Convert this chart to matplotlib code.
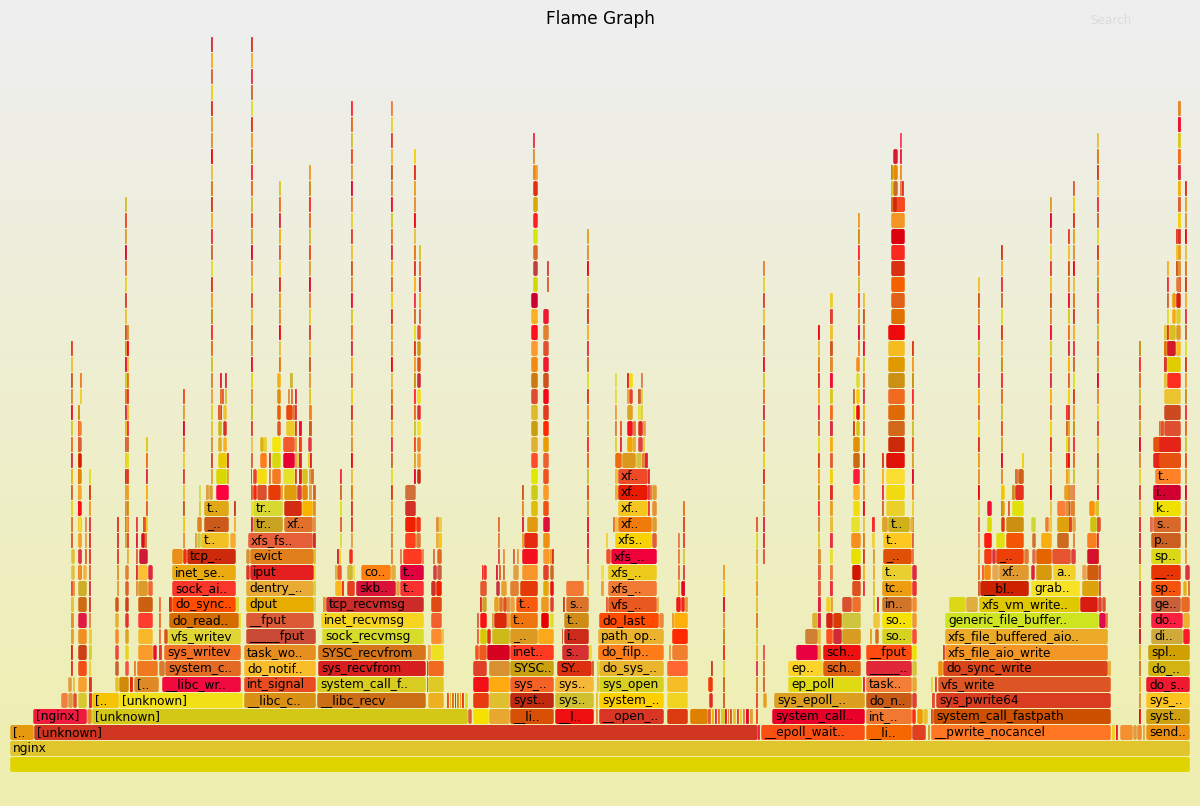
import numpy as np
import matplotlib
matplotlib.use('Agg')
import matplotlib.pyplot as plt
from matplotlib.patches import FancyBboxPatch

# stack rows, bottom up: (first sample, last sample, function name)
r00 = [(10, 1190, '')]
c00 = ['#e0d400']
r01 = [(10, 1190, 'nginx')]
c01 = ['#e0c52d']
r02 = [(10, 34, '[..'), (34, 758, '[unknown]'), (758, 760, ''), (761, 865, '__epoll_wait..'), (866, 912, '__li..'),
       (912, 926, ''), (928, 930, ''), (931, 1111, '__pwrite_nocancel'), (1112, 1115, ''), (1116, 1118, ''),
       (1120, 1133, ''), (1133, 1137, ''), (1137, 1142, ''), (1143, 1145, ''), (1146, 1190, 'send..')]
c02 = ['#e59a0d', '#d03621', '#e8203a', '#fb5013', '#f56500', '#e04020', '#d0a030', '#ff7722', '#f0d020', '#e02030',
       '#f59030', '#e09a40', '#ec8a30', '#e0a840', '#ec9210']
r03 = [(33, 87, '[nginx]'), (87, 92, ''), (92, 468, '[unknown]'), (468, 472, ''), (473, 489, ''), (489, 510, ''),
       (510, 554, '__li..'), (555, 594, '__l..'), (596, 598, ''), (599, 664, '__open_..'), (667, 688, ''),
       (690, 708, ''), (772, 865, 'system_call..'), (866, 912, 'int_..'), (912, 916, ''), (917, 923, ''),
       (923, 928, ''), (931, 933, ''), (933, 1111, 'system_call_fastpath'), (1146, 1190, 'syst..')]
c03 = ['#ef1a3d', '#e8882a', '#d4c817', '#e06030', '#f5e000', '#e8a830', '#d85005', '#ee1010', '#e09040', '#d83525',
       '#dc3a10', '#e08000', '#e8002a', '#f07830', '#ff2a10', '#ef9a00', '#e8c030', '#d85030', '#cc5000', '#cfa010']
r04 = [(61, 68, ''), (68, 73, ''), (73, 77, ''), (78, 87, ''), (89, 92, ''), (92, 119, '[..'), (119, 243, '[unknown]'),
       (244, 316, '__libc_c..'), (317, 426, '__libc_recv'), (428, 444, ''), (473, 489, ''), (489, 510, ''),
       (510, 554, 'syst..'), (555, 594, 'sys..'), (596, 598, ''), (599, 664, 'system_..'), (667, 688, ''),
       (709, 713, ''), (723, 725, ''), (756, 758, ''), (763, 767, ''), (774, 865, 'sys_epoll_..'), (866, 912, 'do_n..'),
       (912, 917, ''), (932, 935, ''), (936, 1111, 'sys_pwrite64'), (1146, 1190, 'sys_..')]
c04 = ['#f08040', '#e09a40', '#e05030', '#d8c830', '#e8203a', '#f5c505', '#f0e015', '#d99015', '#cc6e15', '#eeb020',
       '#e83c10', '#e0c030', '#c02a10', '#d0c030', '#e8c030', '#ffd000', '#f0d520', '#e82a20', '#cc7020', '#e85030',
       '#e8a020', '#dc9f20', '#c85a15', '#e04030', '#e05030', '#d93c20', '#fcc220']
r05 = [(68, 72, ''), (73, 75, ''), (78, 87, ''), (89, 92, ''), (115, 119, ''), (119, 129, ''), (130, 133, ''),
       (134, 159, '[..'), (162, 241, '__libc_wr..'), (244, 316, 'int_signal'), (317, 426, 'system_call_f..'),
       (428, 444, ''), (473, 489, ''), (489, 510, ''), (510, 554, 'sys_..'), (555, 594, 'sys..'), (597, 599, ''),
       (599, 664, 'sys_open'), (667, 688, ''), (708, 713, ''), (723, 725, ''), (756, 758, ''), (763, 765, ''),
       (788, 862, 'ep_poll'), (863, 865, ''), (866, 912, 'task..'), (912, 917, ''), (931, 933, ''), (935, 937, ''),
       (938, 1111, 'vfs_write'), (1139, 1141, ''), (1146, 1190, 'do_s..')]
c05 = ['#e09a40', '#e8c040', '#f8a030', '#e8302a', '#e5c025', '#d08a08', '#e02810', '#e08a25', '#f00a40', '#e84c20',
       '#d8cc20', '#e0c825', '#f01015', '#ffaa10', '#f56025', '#f7b83a', '#e8c030', '#d8d020', '#f5be25', '#f03a0a',
       '#cc7020', '#e09030', '#e06030', '#e0da15', '#e8203a', '#f47e35', '#e8a838', '#e8d830', '#e04030', '#dd5525',
       '#e8b030', '#f01a30']
r06 = [(71, 73, ''), (78, 87, ''), (89, 91, ''), (115, 119, ''), (125, 129, ''), (134, 136, ''), (137, 158, ''),
       (159, 165, ''), (165, 241, 'system_c..'), (244, 316, 'do_notif..'), (318, 426, 'sys_recvfrom'), (428, 444, ''),
       (473, 487, ''), (489, 510, ''), (510, 554, 'SYSC..'), (557, 592, 'SY..'), (592, 594, ''), (597, 599, ''),
       (599, 664, 'do_sys_..'), (667, 688, ''), (711, 713, ''), (723, 725, ''), (756, 758, ''), (763, 765, ''),
       (788, 823, 'ep..'), (823, 861, 'sch..'), (866, 912, '_____..'), (912, 917, ''), (938, 943, ''),
       (943, 1108, 'do_sync_write'), (1108, 1111, ''), (1139, 1141, ''), (1148, 1190, 'do_..')]
c06 = ['#e83020', '#f05018', '#e8d030', '#c96030', '#f55040', '#e8803a', '#f07820', '#d87a30', '#e36a25', '#f9bc2a',
       '#d81f1f', '#f06a20', '#e04028', '#d89030', '#c8a010', '#dc3010', '#d06030', '#e8d030', '#e9b52c', '#ff6630',
       '#c84020', '#e8d830', '#e04050', '#e07030', '#fcd32a', '#e06012', '#e02838', '#d8c040', '#f29010', '#d94518',
       '#e9a840', '#d08030', '#d1b312']
r07 = [(71, 73, ''), (78, 87, ''), (89, 92, ''), (115, 119, ''), (125, 129, ''), (138, 153, ''), (153, 157, ''),
       (159, 162, ''), (164, 241, 'sys_writev'), (244, 316, 'task_wo..'), (318, 426, 'SYSC_recvfrom'), (428, 431, ''),
       (431, 444, ''), (475, 479, ''), (479, 487, ''), (487, 510, ''), (510, 554, 'inet..'), (562, 589, 's..'),
       (589, 592, ''), (598, 664, 'do_filp..'), (669, 671, ''), (672, 688, ''), (723, 725, ''), (756, 758, ''),
       (763, 765, ''), (796, 818, ''), (818, 821, ''), (823, 861, 'sch..'), (866, 912, '__fput'), (912, 917, ''),
       (943, 945, ''), (945, 1108, 'xfs_file_aio_write'), (1139, 1141, ''), (1148, 1190, 'spl..')]
c07 = ['#e02818', '#cc4018', '#d8d030', '#ec4840', '#ecd020', '#fa9a28', '#e81030', '#e83a30', '#f06e25', '#e68f20',
       '#d6751a', '#eeb050', '#ede020', '#f45020', '#ee5a20', '#d60020', '#ff3a20', '#d63030', '#e8e030', '#ff7d18',
       '#e8a040', '#f08030', '#f03020', '#e8c030', '#f05050', '#e80040', '#f0a030', '#f01010', '#ff4a10', '#f0e000',
       '#e04030', '#f39625', '#e8b030', '#cfa000']
r08 = [(71, 74, ''), (78, 87, ''), (89, 92, ''), (115, 119, ''), (125, 129, ''), (138, 153, ''), (159, 161, ''),
       (164, 168, ''), (168, 241, 'vfs_writev'), (246, 316, '_____fput'), (322, 424, 'sock_recvmsg'), (431, 442, ''),
       (442, 444, ''), (477, 479, ''), (480, 487, ''), (487, 491, ''), (492, 510, ''), (510, 538, '_..'), (538, 554, ''),
       (562, 563, ''), (564, 589, 'i..'), (598, 664, 'path_op..'), (672, 688, ''), (723, 725, ''), (756, 758, ''),
       (805, 818, ''), (818, 821, ''), (826, 833, ''), (833, 842, ''), (842, 861, ''), (870, 872, ''), (875, 879, ''),
       (882, 912, 'so..'), (912, 917, ''), (945, 1108, 'xfs_file_buffered_aio..'), (1139, 1141, ''),
       (1151, 1183, 'di..'), (1183, 1190, '')]
c08 = ['#e8a030', '#ef9020', '#e8d030', '#fc8a2a', '#e0a020', '#f8b82a', '#f07040', '#d85515', '#dfd533', '#c94a35',
       '#d7db2a', '#fc8c30', '#f0c040', '#f06040', '#d8c800', '#e03020', '#ccba18', '#dc9a20', '#fba81a', '#d06040',
       '#cd2a1a', '#eab22d', '#ff2a00', '#c89020', '#d8c840', '#d08035', '#e8c040', '#ff5020', '#d02a38', '#d89c20',
       '#e8a020', '#d87020', '#d6d220', '#f84f30', '#ebaa28', '#cc2030', '#cfa93a', '#ff1a2a']
r09 = [(71, 74, ''), (78, 87, ''), (89, 91, ''), (115, 119, ''), (125, 129, ''), (138, 153, ''), (159, 161, ''),
       (169, 239, 'do_read..'), (239, 241, ''), (246, 314, '__fput'), (321, 424, 'inet_recvmsg'), (431, 442, ''),
       (477, 479, ''), (480, 487, ''), (492, 494, ''), (494, 507, ''), (507, 510, ''), (510, 538, 't..'),
       (541, 549, ''), (550, 554, ''), (564, 589, 't..'), (599, 659, 'do_last'), (659, 664, ''), (672, 674, ''),
       (674, 688, ''), (723, 725, ''), (756, 758, ''), (812, 818, ''), (818, 821, ''), (826, 833, ''), (833, 842, ''),
       (842, 861, ''), (873, 880, ''), (882, 912, 'so..'), (912, 917, ''), (945, 1099, 'generic_file_buffer..'),
       (1099, 1106, ''), (1106, 1108, ''), (1139, 1141, ''), (1151, 1183, 'do..'), (1183, 1190, '')]
c09 = ['#e09030', '#e01a40', '#f08040', '#e9b030', '#e83030', '#ff3c2e', '#f07030', '#d46c00', '#f0e020', '#dc5a35',
       '#f7d420', '#f26030', '#e06040', '#ff1010', '#e0a040', '#d82a0a', '#f0a030', '#ee7510', '#e60000', '#dde020',
       '#cf8d18', '#ff4a00', '#ec8a40', '#e8a030', '#ffae0c', '#e89040', '#e08030', '#dcb030', '#e02040', '#d62010',
       '#d83a08', '#cfc43d', '#f0c840', '#f5e200', '#ec9a30', '#cfe420', '#dc0c50', '#f07a30', '#e82a30', '#fb2040',
       '#eeb030']
r10 = [(71, 74, ''), (78, 87, ''), (89, 91, ''), (115, 119, ''), (125, 129, ''), (138, 153, ''), (159, 161, ''),
       (169, 172, ''), (172, 236, 'do_sync..'), (236, 239, ''), (246, 314, 'dput'), (314, 316, ''), (323, 326, ''),
       (326, 424, 'tcp_recvmsg'), (431, 442, ''), (480, 482, ''), (482, 487, ''), (494, 499, ''), (499, 503, ''),
       (503, 507, ''), (507, 510, ''), (510, 515, ''), (516, 538, 't..'), (541, 549, ''), (550, 554, ''),
       (563, 565, ''), (566, 589, 's..'), (606, 608, ''), (608, 657, 'vfs_..'), (657, 659, ''), (676, 681, ''),
       (681, 685, ''), (685, 688, ''), (723, 725, ''), (756, 758, ''), (818, 821, ''), (826, 831, ''), (831, 833, ''),
       (842, 852, ''), (852, 861, ''), (873, 875, ''), (877, 879, ''), (882, 912, 'in..'), (912, 917, ''),
       (949, 966, ''), (966, 978, ''), (979, 1080, 'xfs_vm_write..'), (1080, 1098, ''), (1098, 1102, ''),
       (1102, 1106, ''), (1139, 1141, ''), (1151, 1181, 'ge..'), (1181, 1190, '')]
c10 = ['#e8c030', '#cf6a15', '#e03030', '#d0561a', '#d04020', '#cc6010', '#f07040', '#d82a10', '#ff4c00', '#dcd840',
       '#e6ac00', '#d8d060', '#f09030', '#cb2c2a', '#e24a14', '#e03020', '#cfa030', '#e8a020', '#e07030', '#e05010',
       '#e09040', '#e8a040', '#f95a10', '#ee9a20', '#e04030', '#d04020', '#d9742a', '#e06040', '#e9581f', '#e8b040',
       '#f01a18', '#f12a10', '#e0a040', '#e01040', '#e8c040', '#e02040', '#f8cc20', '#e8a030', '#d95030', '#f07030',
       '#d8d830', '#e02030', '#d0752a', '#f58a30', '#dcd818', '#e0ae40', '#e0c800', '#d81c10', '#e04030', '#df5530',
       '#f03040', '#c9603a', '#ea6a25']
r11 = [(71, 73, ''), (73, 75, ''), (78, 87, ''), (89, 91, ''), (117, 119, ''), (125, 129, ''), (136, 138, ''),
       (138, 148, ''), (148, 153, ''), (172, 236, 'sock_ai..'), (246, 314, 'dentry_..'), (314, 316, ''), (335, 342, ''),
       (342, 344, ''), (347, 355, ''), (356, 396, 'skb..'), (396, 400, ''), (400, 424, 't..'), (431, 436, ''),
       (436, 442, ''), (480, 487, ''), (496, 500, ''), (501, 507, ''), (510, 519, ''), (520, 538, ''), (543, 549, ''),
       (550, 554, ''), (566, 584, ''), (587, 589, ''), (601, 604, ''), (608, 657, 'xfs_..'), (678, 680, ''),
       (681, 685, ''), (723, 725, ''), (756, 758, ''), (818, 821, ''), (830, 833, ''), (852, 861, ''), (873, 875, ''),
       (882, 912, 'tc..'), (912, 917, ''), (978, 980, ''), (980, 1029, '__bl..'), (1031, 1080, 'grab..'),
       (1082, 1099, ''), (1099, 1101, ''), (1139, 1141, ''), (1151, 1181, 'sp..'), (1183, 1187, ''), (1188, 1190, '')]
c11 = ['#e85030', '#f09030', '#cdae25', '#e03040', '#e8a040', '#e06030', '#e09040', '#dc9a2a', '#f06a30', '#f9362a',
       '#e9ab35', '#d8d040', '#fdb71e', '#ee3010', '#e8401e', '#d81238', '#e8a040', '#fb3030', '#cc3028', '#ee2000',
       '#e45a30', '#c83040', '#e8a030', '#e08030', '#e43a08', '#e5a808', '#ee1010', '#f27a35', '#e8d040', '#f0a040',
       '#f37a33', '#e8c040', '#e00a28', '#f5d800', '#e8a030', '#e06040', '#e83040', '#dd5020', '#e0c030', '#ee9c10',
       '#f03030', '#d06030', '#cc2200', '#f7e226', '#dea20c', '#e04050', '#e82030', '#f6540c', '#e4b020', '#e07030']
r12 = [(71, 75, ''), (78, 82, ''), (83, 87, ''), (89, 91, ''), (117, 119, ''), (125, 129, ''), (136, 138, ''),
       (138, 148, ''), (148, 153, ''), (172, 236, 'inet_se..'), (246, 250, ''), (250, 314, 'iput'), (314, 316, ''),
       (335, 337, ''), (337, 342, ''), (347, 353, ''), (353, 355, ''), (361, 391, 'co..'), (391, 396, ''),
       (400, 424, 't..'), (433, 437, ''), (437, 442, ''), (482, 483, ''), (483, 487, ''), (496, 498, ''), (499, 501, ''),
       (503, 505, ''), (513, 519, ''), (522, 538, ''), (543, 549, ''), (550, 554, ''), (587, 589, ''), (601, 604, ''),
       (608, 657, 'xfs_..'), (678, 680, ''), (683, 685, ''), (723, 725, ''), (756, 758, ''), (818, 821, ''),
       (830, 833, ''), (852, 861, ''), (873, 875, ''), (882, 912, 't..'), (912, 917, ''), (978, 980, ''), (982, 984, ''),
       (984, 991, ''), (992, 999, ''), (999, 1029, 'xf..'), (1031, 1035, ''), (1036, 1052, ''),
       (1053, 1076, 'a..'), (1082, 1087, ''), (1087, 1099, ''), (1099, 1101, ''), (1139, 1141, ''),
       (1151, 1181, '__..'), (1185, 1190, '')]
c12 = ['#e0c040', '#f09020', '#f8b040', '#e06040', '#e0a030', '#e08030', '#e03030', '#fcc035', '#e0283a', '#ebaa10',
       '#d93a25', '#e51f1f', '#f0e040', '#e0b040', '#ee5a30', '#d0b830', '#f0e040', '#ff8010', '#e0ac40', '#e00040',
       '#d83a40', '#cc6040', '#f03030', '#f0342a', '#e02040', '#e86030', '#d87030', '#e0a040', '#f7942a', '#e0402a',
       '#cc6a20', '#e8a040', '#f0e040', '#ebca1c', '#e07040', '#e04050', '#f0a030', '#e8d030', '#e06040', '#e88040',
       '#d01800', '#e8b030', '#e8d030', '#e02a40', '#e08030', '#f06030', '#f58a10', '#e8a850', '#e09a30', '#e0203a',
       '#d69a0c', '#f2d22a', '#f0a050', '#cf5c0c', '#e04050', '#e8d040', '#e83505', '#e03040']
r13 = [(71, 75, ''), (78, 82, ''), (85, 87, ''), (89, 91, ''), (117, 119, ''), (127, 129, ''), (136, 138, ''),
       (139, 148, ''), (172, 183, ''), (183, 187, ''), (187, 236, 'tcp_..'), (246, 250, ''), (250, 314, 'evict'),
       (314, 316, ''), (337, 339, ''), (339, 341, ''), (349, 353, ''), (391, 393, ''), (400, 402, ''), (403, 422, ''),
       (422, 424, ''), (433, 435, ''), (437, 442, ''), (498, 500, ''), (503, 505, ''), (513, 515, ''), (517, 519, ''),
       (522, 538, ''), (543, 550, ''), (550, 552, ''), (552, 554, ''), (587, 589, ''), (606, 611, ''), (611, 657, 'xfs_..'),
       (678, 680, ''), (683, 685, ''), (756, 758, ''), (763, 765, ''), (818, 821, ''), (830, 833, ''), (851, 861, ''),
       (873, 875, ''), (883, 912, '_..'), (912, 914, ''), (978, 980, ''), (984, 992, ''), (992, 996, ''),
       (996, 1024, '_..'), (1024, 1029, ''), (1032, 1036, ''), (1036, 1052, ''), (1052, 1071, ''), (1071, 1076, ''),
       (1087, 1099, ''), (1139, 1141, ''), (1151, 1181, 'sp..'), (1185, 1187, '')]
c13 = ['#e0c030', '#e0304a', '#f06030', '#e83030', '#e04040', '#e8b030', '#e06040', '#d01a38', '#e8901a', '#f03010',
       '#cc2a0a', '#d89030', '#e07f1c', '#e0c030', '#d82040', '#f5d020', '#f0301a', '#e88030', '#e08050', '#ff3a20',
       '#f08050', '#e07040', '#e06a20', '#e05040', '#f09040', '#e06040', '#e0a040', '#f5101f', '#fa9a2e', '#e8a020',
       '#e03020', '#e04040', '#f05030', '#f0003a', '#e88040', '#d8d040', '#e8b040', '#e85040', '#d89030', '#e8e030',
       '#e8e000', '#d8a030', '#e05005', '#f07040', '#e0a040', '#f03a1a', '#e03040', '#ec4008', '#e07a30', '#e06a50',
       '#e56400', '#e65530', '#e04040', '#d4102c', '#d05030', '#dcd818', '#e8a030']
r14 = [(71, 73, ''), (78, 82, ''), (85, 87, ''), (89, 91, ''), (117, 119, ''), (125, 127, ''), (127, 129, ''),
       (136, 138, ''), (141, 145, ''), (145, 147, ''), (183, 185, ''), (195, 197, ''), (197, 201, ''),
       (201, 229, 't..'), (230, 236, ''), (248, 313, 'xfs_fs..'), (313, 316, ''), (340, 342, ''), (351, 353, ''),
       (391, 393, ''), (405, 416, ''), (416, 421, ''), (436, 439, ''), (439, 442, ''), (498, 500, ''), (522, 524, ''),
       (524, 538, ''), (543, 550, ''), (587, 589, ''), (606, 608, ''), (615, 652, 'xfs..'), (652, 657, ''), (678, 680, ''),
       (683, 685, ''), (756, 758, ''), (763, 765, ''), (818, 820, ''), (830, 833, ''), (851, 861, ''), (872, 875, ''),
       (883, 912, 't..'), (912, 914, ''), (978, 980, ''), (984, 992, ''), (996, 1005, ''), (1006, 1024, ''),
       (1032, 1036, ''), (1041, 1052, ''), (1057, 1069, ''), (1087, 1097, ''), (1139, 1141, ''),
       (1151, 1181, 'p..'), (1185, 1187, '')]
c14 = ['#e06030', '#f5a030', '#f0a040', '#e8302a', '#e04040', '#e0a050', '#e05030', '#e02040', '#d81020', '#e07030',
       '#e8a040', '#e8a040', '#cccc40', '#f0c025', '#f5ac30', '#e65f38', '#d03030', '#d8e040', '#e8a040', '#e08030',
       '#ff401c', '#e07a30', '#e8b040', '#f8c810', '#e08040', '#e8a030', '#e52a10', '#f09010', '#ee2040', '#f0d040',
       '#f8d205', '#e06030', '#e08050', '#f04040', '#e0e030', '#e03040', '#e0d030', '#e83040', '#f59020', '#f0d040',
       '#fdc820', '#e06040', '#f08050', '#ff1a10', '#e0e010', '#f25505', '#d07030', '#f8ae10', '#cc6a20', '#f88020',
       '#e03040', '#cc6020', '#d08030']
r15 = [(71, 73, ''), (78, 82, ''), (85, 87, ''), (89, 91, ''), (117, 119, ''), (125, 129, ''), (136, 138, ''),
       (143, 146, ''), (183, 185, ''), (197, 202, ''), (204, 229, '_..'), (234, 236, ''), (251, 253, ''),
       (253, 283, 'tr..'), (284, 313, 'xf..'), (313, 316, ''), (340, 342, ''), (351, 353, ''), (391, 393, ''),
       (405, 416, ''), (416, 421, ''), (436, 439, ''), (439, 442, ''), (498, 500, ''), (522, 524, ''), (527, 538, ''),
       (543, 550, ''), (587, 589, ''), (613, 615, ''), (615, 618, ''), (618, 652, 'xf..'), (652, 657, ''), (683, 685, ''),
       (756, 758, ''), (763, 765, ''), (818, 820, ''), (830, 833, ''), (851, 860, ''), (872, 875, ''),
       (882, 888, ''), (888, 910, 't..'), (910, 914, ''), (978, 980, ''), (987, 992, ''), (1001, 1005, ''),
       (1006, 1024, ''), (1031, 1036, ''), (1045, 1049, ''), (1049, 1052, ''), (1057, 1069, ''), (1069, 1072, ''),
       (1072, 1076, ''), (1090, 1097, ''), (1097, 1101, ''), (1139, 1141, ''), (1150, 1153, ''), (1153, 1181, 's..'),
       (1185, 1187, '')]
c15 = ['#e08030', '#fadc20', '#e09050', '#e83040', '#e04030', '#e8a030', '#e04050', '#e85030', '#f0d010', '#e08020',
       '#cc5a1a', '#f5ac30', '#e02040', '#c8a220', '#e0702a', '#e09040', '#e07040', '#e04030', '#e09040', '#ee2000',
       '#f83010', '#e09040', '#e8d040', '#e07030', '#e03040', '#e09a10', '#e01038', '#f02040', '#f07030', '#f0c040',
       '#f07a0a', '#e09a30', '#e05020', '#e06040', '#e03050', '#d89040', '#e8c040', '#e8e030', '#f03030', '#e0a030',
       '#cfb018', '#e8b040', '#e06040', '#dcd800', '#e03a08', '#cc9010', '#d0d830', '#f07a30', '#e8d040', '#dea20c',
       '#e04030', '#e8a040', '#d0c010', '#e05030', '#f03040', '#e07050', '#d9692a', '#e02030']
r16 = [(199, 201, ''), (204, 229, 't..'), (234, 236, ''), (251, 253, ''), (253, 283, 'tr..'), (284, 302, ''),
       (302, 313, ''), (313, 316, ''), (618, 648, 'xf..'), (648, 650, ''), (652, 657, ''), (987, 992, ''),
       (1001, 1005, ''), (1008, 1010, ''), (1012, 1024, ''), (1057, 1066, ''), (1066, 1069, ''), (1070, 1075, ''),
       (1089, 1095, ''), (1095, 1099, ''), (1153, 1181, 'k..')]
c16 = ['#d8d030', '#e0a815', '#cc3a20', '#f0e020', '#d8d830', '#d42c10', '#fab400', '#e09030', '#f5c61f', '#e8402a',
       '#e89030', '#ee1030', '#e09a10', '#e06030', '#e2e00a', '#fc7f38', '#e09040', '#e08030', '#ff9000', '#d8c030',
       '#f0e000']
r17 = [(199, 201, ''), (206, 209, ''), (209, 213, ''), (216, 229, ''), (251, 253, ''), (253, 257, ''), (257, 267, ''),
       (268, 281, ''), (281, 283, ''), (284, 297, ''), (297, 302, ''), (302, 308, ''), (309, 312, ''), (313, 316, ''),
       (615, 618, ''), (618, 648, 'xf..'), (648, 650, ''), (650, 652, ''), (652, 657, ''), (1001, 1005, ''),
       (1012, 1015, ''), (1015, 1024, ''), (1064, 1069, ''), (1069, 1075, ''), (1153, 1181, 'i..')]
c17 = ['#d8e040', '#e0a040', '#d8a030', '#ff0040', '#e06030', '#ec2c10', '#dc5030', '#e83c08', '#f5a020', '#e09c0c',
       '#d83a4a', '#e8860c', '#e0a040', '#e06030', '#e8b030', '#e81a00', '#e03050', '#f07030', '#e09a30', '#f0c800',
       '#d09030', '#e53020', '#e8a020', '#e09050', '#d00030']
r18 = [(211, 213, ''), (216, 227, ''), (227, 229, ''), (251, 252, ''), (253, 257, ''), (257, 267, ''), (269, 271, ''),
       (272, 281, ''), (283, 295, ''), (295, 297, ''), (299, 302, ''), (302, 308, ''), (309, 311, ''), (311, 314, ''),
       (615, 618, ''), (618, 648, 'xf..'), (648, 650, ''), (1015, 1018, ''), (1018, 1024, ''), (1155, 1181, 't..')]
c18 = ['#e8a030', '#d8d800', '#e8a040', '#e84040', '#f04020', '#f5dc10', '#e08040', '#f57a20', '#e6e02a', '#e04040',
       '#e02030', '#d8c020', '#e0a040', '#e07030', '#f0c030', '#ee4a28', '#e02a28', '#e07030', '#d0601a', '#ff8228']
r19 = [(211, 213, ''), (218, 227, ''), (227, 229, ''), (251, 253, ''), (260, 267, ''), (269, 271, ''), (272, 281, ''),
       (283, 295, ''), (295, 297, ''), (297, 299, ''), (299, 302, ''), (308, 310, ''), (310, 312, ''),
       (615, 622, ''), (622, 636, ''), (636, 642, ''), (642, 645, ''), (645, 648, ''), (1159, 1181, '')]
c19 = ['#e04030', '#eaca00', '#d82a40', '#e06040', '#ff7d1a', '#d0402a', '#d8d80c', '#e80030', '#e8a040', '#e0d040',
       '#e02030', '#dcd820', '#e02030', '#f06a10', '#dc981c', '#d8c040', '#e88030', '#e02040', '#e85010']
r20 = [(211, 213, ''), (218, 222, ''), (223, 227, ''), (251, 253, ''), (260, 264, ''), (264, 267, ''), (272, 281, ''),
       (283, 295, ''), (295, 297, ''), (299, 302, ''), (308, 312, ''), (615, 617, ''), (620, 622, ''), (627, 633, ''),
       (633, 636, ''), (638, 643, ''), (643, 645, ''), (1159, 1181, '')]
c20 = ['#e09030', '#e0b020', '#ffae20', '#f0c050', '#e0b010', '#e8d030', '#f5e60c', '#f05a2c', '#e0a030', '#ff3a10',
       '#e03a40', '#e0d030', '#e03040', '#f0a800', '#e8a840', '#e04040', '#e8d030', '#e42418']
r21 = [(211, 213, ''), (218, 222, ''), (223, 227, ''), (251, 253, ''), (277, 281, ''), (286, 295, ''), (295, 297, ''),
       (299, 302, ''), (309, 312, ''), (615, 617, ''), (620, 622, ''), (627, 633, ''), (633, 636, ''), (638, 643, ''),
       (643, 646, ''), (1159, 1161, ''), (1161, 1164, ''), (1164, 1181, '')]
c21 = ['#e8c030', '#ccb810', '#d83028', '#e04030', '#e0582a', '#ecca2a', '#e04030', '#ee1030', '#d05a20', '#e08040',
       '#e06030', '#f50f1f', '#e08030', '#e02a20', '#f0a040', '#e07040', '#e85020', '#e05030']
r22 = [(211, 213, ''), (218, 221, ''), (221, 222, ''), (223, 227, ''), (251, 253, ''), (277, 281, ''), (286, 293, ''),
       (293, 295, ''), (295, 297, ''), (309, 312, ''), (615, 617, ''), (627, 633, ''), (638, 641, ''), (641, 643, ''),
       (1164, 1181, '')]
c22 = ['#e0d020', '#e06030', '#e04040', '#f0c230', '#c8c020', '#e86000', '#e84a0c', '#e07040', '#e03040', '#ff7f10',
       '#f0a040', '#e0a020', '#e8e040', '#e0d040', '#cc4a20']
r23 = [(211, 213, ''), (220, 222, ''), (222, 224, ''), (225, 227, ''), (251, 253, ''), (277, 281, ''), (288, 290, ''),
       (291, 293, ''), (295, 297, ''), (309, 311, ''), (615, 617, ''), (627, 629, ''), (629, 633, ''), (638, 641, ''),
       (641, 643, ''), (1164, 1181, '')]
c23 = ['#f0a040', '#e07030', '#e06030', '#e0c030', '#e09040', '#e08a08', '#e09040', '#e07040', '#e03040', '#d8d820',
       '#e0e040', '#f0a040', '#e8402a', '#d06030', '#d8d040', '#ecc430']
r24 = [(211, 213, ''), (220, 222, ''), (225, 227, ''), (251, 253, ''), (277, 281, ''), (290, 293, ''), (309, 311, ''),
       (615, 617, ''), (627, 629, ''), (629, 633, ''), (641, 643, ''), (1164, 1167, ''), (1167, 1181, '')]
c24 = ['#e08030', '#e02040', '#e03040', '#e8d820', '#f5b010', '#cbb83a', '#e0a040', '#e0e040', '#e82030', '#f8dc05',
       '#e08050', '#e8c040', '#ff2c20']

# narrow frames, stacked over many rows: (first sample, last sample, lowest row, highest row)
spikes = [(71, 73, 14, 26), (80, 82, 23, 24), (78, 80, 16, 22), (89, 91, 16, 18), (117, 119, 11, 15), (125, 127, 14, 35),
          (127, 129, 14, 27), (143, 145, 14, 15), (146, 148, 15, 20), (183, 185, 14, 23), (211, 213, 25, 45),
          (251, 253, 23, 45), (279, 281, 25, 36), (309, 311, 23, 37), (340, 342, 15, 18), (351, 353, 15, 41),
          (391, 393, 15, 41), (414, 416, 18, 38), (419, 421, 28, 32), (522, 524, 15, 17), (587, 589, 11, 33),
          (683, 685, 11, 16), (723, 725, 3, 12), (756, 758, 3, 15), (763, 765, 14, 31), (818, 820, 11, 27),
          (830, 833, 15, 29), (858, 860, 26, 34), (853, 855, 21, 23), (863, 865, 11, 29), (912, 914, 15, 26),
          (882, 884, 15, 19), (978, 980, 15, 30), (1001, 1003, 16, 32), (1050, 1052, 15, 35), (1066, 1068, 13, 22),
          (1068, 1070, 15, 33), (1073, 1075, 13, 36), (1097, 1099, 13, 39), (1139, 1141, 3, 26), (1167, 1169, 26, 31),
          (1164, 1167, 25, 27), (1178, 1181, 30, 41), (1176, 1178, 31, 33), (1185, 1187, 15, 36), (1022, 1024, 19, 19),
          (708, 711, 3, 3), (712, 714, 3, 3), (715, 717, 3, 3),
          (718, 720, 3, 3), (721, 723, 3, 3), (725, 727, 3, 3), (728, 729, 3, 3), (730, 732, 3, 3), (733, 736, 3, 3),
          (737, 739, 3, 3), (740, 742, 3, 3), (743, 745, 3, 3), (746, 749, 3, 3), (750, 753, 3, 3), (447, 449, 4, 4),
          (450, 451, 4, 4), (452, 454, 4, 4), (455, 456, 4, 4), (457, 459, 4, 4), (460, 461, 4, 4), (462, 464, 4, 4),
          (465, 468, 4, 4), (427, 428, 5, 6)]

# wider narrow stacks, one colour per row from the lowest row up
column_spans = [(531, 538, 16), (543, 549, 16), (533, 538, 30), (891, 905, 28), (886, 905, 16), (888, 905, 20),
                (853, 860, 16), (856, 860, 21), (405, 416, 16), (417, 421, 18), (1153, 1181, 19), (78, 82, 12)]
column_colors = [
    ['#e0be08', '#cccc18', '#e0e800', '#ff4c2a', '#e0b030', '#cc9c10', '#dcba28', '#e04a30', '#cc7a10', '#f08a10',
     '#fc9a30', '#ff101a', '#fdb020', '#cc0030'],
    ['#f05010', '#fc9a28', '#f0501c', '#ee6030', '#e89c00', '#ff2a00', '#e03a20', '#f50818', '#cc5020', '#ee1a30',
     '#e05030', '#e08030', '#f01a30'],
    ['#d0d800', '#c04040', '#d86a2a', '#d0e80a', '#ff2020', '#d8a800', '#e03010'],
    ['#e07000', '#e06018', '#f56000', '#d83010', '#f82a20', '#dc000f', '#f39625', '#f54a20'],
    ['#ecd02a', '#f2da10', '#fbdc30', '#e01208'],
    ['#cc2a08', '#d2681a', '#e06a08', '#f06a20', '#cc9014', '#e09a00', '#f5bc22', '#ee0a0a'],
    ['#f0dc10', '#fdb62a', '#ff1a38', '#cc6a14', '#e09000'],
    ['#d0c80a', '#f00a00', '#fcc80a', '#dede30', '#f58a20'],
    ['#d43028', '#d07038'],
    ['#cc2a10', '#f5a030', '#ee7a20', '#f5e020', '#e03030', '#f5d818', '#cc2a30', '#e05018', '#d09a10', '#e85030'],
    ['#e42418', '#e85010'],
    ['#e03040', '#f5a030', '#fadc20', '#e8603a', '#ff1010', '#f9a830', '#e08a00', '#dc1a00', '#d8603a', '#f58030']]
# top of the right hand stack and the tall middle one, narrow cells
top_frames = [(25, 1167, 1181, '#e0cc00'), (26, 1167, 1176, '#d41a28'), (26, 1176, 1181, '#ffb818'),
              (27, 1169, 1176, '#d8c020'), (27, 1176, 1181, '#e09a20'), (28, 1172, 1176, '#fca80a'),
              (28, 1176, 1181, '#dcd030'), (29, 1172, 1176, '#f09a0a'), (29, 1176, 1181, '#d82008'),
              (30, 1176, 1181, '#e07a3a'), (35, 891, 893, '#e07020'), (35, 893, 897, '#d02808'),
              (35, 897, 905, '#f54a20'), (36, 891, 893, '#d8c800'), (36, 893, 898, '#cc6a30'),
              (36, 900, 902, '#e08040'), (36, 902, 904, '#e83020'), (37, 891, 893, '#c09000'),
              (37, 893, 898, '#e88a00'), (37, 900, 902, '#f09020'), (38, 893, 898, '#d81a30'),
              (38, 900, 902, '#ee2040'), (39, 900, 902, '#ff4060'), (37, 533, 536, '#f08a10'),
              (37, 536, 538, '#f5a030'), (38, 533, 535, '#e09030'), (39, 533, 535, '#f03050'),
              (30, 547, 549, '#e06030'), (31, 547, 549, '#e04040')]
# colours of the thin frames, as they come up the picture
spike_colors = ['#e8a020', '#e03020', '#f0d010', '#e06030', '#f5b010', '#d83040', '#f07020', '#d8c820', '#ee1030',
                '#e08a30', '#cc5a20', '#f0c030', '#e04030', '#e8d030', '#f08030', '#e00a30', '#dca030', '#f04a20',
                '#d0c030', '#e86a20', '#ff2a30', '#cc9010', '#f59a20', '#e03a10', '#e0e020', '#d06a30', '#f03040',
                '#f7b020', '#d83a20', '#e07a10', '#e8c040', '#ee0a10', '#e09030']

rows = [r00, r01, r02, r03, r04, r05, r06, r07, r08, r09, r10, r11, r12, r13, r14, r15, r16, r17, r18, r19, r20,
        r21, r22, r23, r24]
row_colors = [c00, c01, c02, c03, c04, c05, c06, c07, c08, c09, c10, c11, c12, c13, c14, c15, c16, c17, c18, c19,
              c20, c21, c22, c23, c24]


def row_top(row):
    return 757 - 16 * row


def draw_frame(ax, x0, x1, row, color, name=''):
    w = x1 - x0
    # the thin ones fill their slot, wider ones leave a hair of gap
    if w >= 4:
        w = w - 0.5
        x0 = x0 + 0.25
        rad = 2
    else:
        w = max(w - 0.1, 1.0)
        rad = w / 3.0
    ax.add_patch(FancyBboxPatch((x0, row_top(row)), w, 15, boxstyle='round,pad=0,rounding_size=%g' % rad,
                                fc=color, ec='none', lw=0, zorder=2))
    if name:
        ax.text(x0 + 2.75, row_top(row) + 11, name, fontsize=8.7, color='black', va='baseline', ha='left', zorder=3)


fig = plt.figure(figsize=(12, 8.06), dpi=100)
ax = fig.add_axes([0, 0, 1, 1])

# page background, same vertical gradient as the svg
t = np.linspace(0, 1, 806)
top = np.array([238, 238, 238]) / 255.0
bot = np.array([238, 238, 176]) / 255.0
mix = np.clip((t - 0.05) / 0.9, 0, 1)[:, None, None]
ax.imshow(top[None, None, :] * (1 - mix) + bot[None, None, :] * mix, extent=(0, 1200, 806, 0), aspect='auto', zorder=0)
ax.set_xlim(0, 1200)
ax.set_ylim(806, 0)
ax.axis('off')

n = 0
for x0, x1, low, high in spikes:
    for row in range(low, high + 1):
        draw_frame(ax, x0, x1, row, spike_colors[n % len(spike_colors)])
        n += 1

for (x0, x1, low), cols in zip(column_spans, column_colors):
    for i, col in enumerate(cols):
        draw_frame(ax, x0, x1, low + i, col)

for row, x0, x1, col in top_frames:
    draw_frame(ax, x0, x1, row, col)

for row, (frames, cols) in enumerate(zip(rows, row_colors)):
    for k, (x0, x1, name) in enumerate(frames):
        draw_frame(ax, x0, x1, row, cols[k % len(cols)], name)

ax.text(600, 24, 'Flame Graph', fontsize=12.24, color='black', ha='center', va='baseline')
ax.text(1090, 24, 'Search', fontsize=8.64, color='#dcdcdc', ha='left', va='baseline')

fig.savefig('out.png', dpi=100)
